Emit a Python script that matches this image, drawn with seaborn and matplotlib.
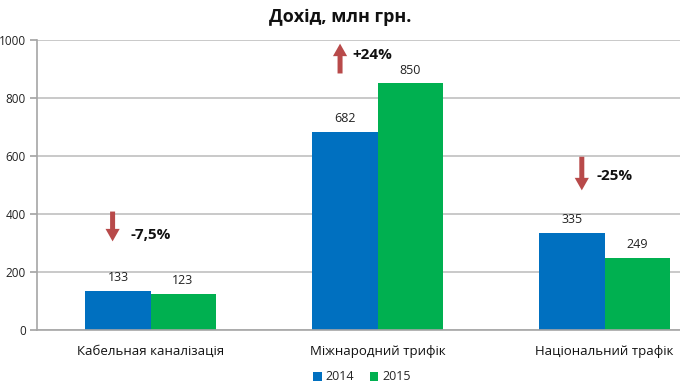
import matplotlib
matplotlib.use("Agg")
import matplotlib.pyplot as plt
import seaborn as sns
import pandas as pd

categories = ["Кабельная каналізація", "Міжнародний трифік", "Національний трафік"]
years = ["2014", "2015"]
values_2014 = [133, 682, 335]
values_2015 = [123, 850, 249]
changes = ["-7,5%", "+24%", "-25%"]
yticks = [0, 200, 400, 600, 800, 1000]

sns.set_theme(style="white")
plt.rcParams["font.family"] = ["Open Sans", "DejaVu Sans"]

df = pd.DataFrame({
    "cat": categories * 2,
    "year": [years[0]] * 3 + [years[1]] * 3,
    "val": values_2014 + values_2015,
})

fig = plt.figure(figsize=(6.8, 3.89), dpi=100)
ax = fig.add_axes([37 / 680, 1 - 330 / 389, 681 / 680, 290 / 389])

sns.barplot(data=df, x="cat", y="val", hue="year", order=categories,
            hue_order=years, palette=["#0070c0", "#00b050"], width=0.573,
            saturation=1, ax=ax, legend=True, linewidth=0, edgecolor="none")

for c in ax.containers:
    ax.bar_label(c, padding=5, fontsize=9, color="#222222")

ax.set_ylim(0, 1000)
ax.set_yticks(yticks)
ax.set_xlim(-0.5, 2.5)
ax.yaxis.grid(True, color="#c0c0c0", linewidth=1.2)
ax.set_axisbelow(True)
for s in ["top", "right"]:
    ax.spines[s].set_visible(False)
for s in ["left", "bottom"]:
    ax.spines[s].set_color("#a6a6a6")
    ax.spines[s].set_linewidth(1.2)
ax.tick_params(axis="y", left=True, length=5, color="#a6a6a6", labelsize=8.5,
               labelcolor="#222222", pad=3)
ax.tick_params(axis="x", bottom=False, labelsize=9.5, labelcolor="#111111", pad=5)
ax.set_xlabel("")
ax.set_ylabel("")

# change arrows and labels
arrow_x = [-0.167, -0.165, -0.10]
arrow_y = [(418, 296), (875, 997), (607, 472)]
text_x = [-0.088, -0.11, -0.035]
text_y = [328, 948, 531]
for i in range(3):
    y0, y1 = arrow_y[i]
    ax.annotate("", xy=(i + arrow_x[i], y1), xytext=(i + arrow_x[i], y0),
                arrowprops=dict(arrowstyle="simple,head_width=0.85,head_length=0.75,tail_width=0.3",
                                color="#b84a4a", lw=0))
    ax.text(i + text_x[i], text_y[i], changes[i], fontsize=11, fontweight="bold",
            color="#111111", va="center", ha="left")

ax.legend(loc="center", bbox_to_anchor=(362 / 680, 12 / 389),
          bbox_transform=fig.transFigure, ncol=2, frameon=False,
          fontsize=9, handlelength=0.7, handleheight=0.7, handletextpad=0.3,
          columnspacing=1.2)

fig.text(0.5, 1 - 17 / 389, "Дохід, млн грн.", ha="center", va="center",
         fontsize=13, fontweight="bold", color="#111111")

fig.savefig("out.png", dpi=100)
